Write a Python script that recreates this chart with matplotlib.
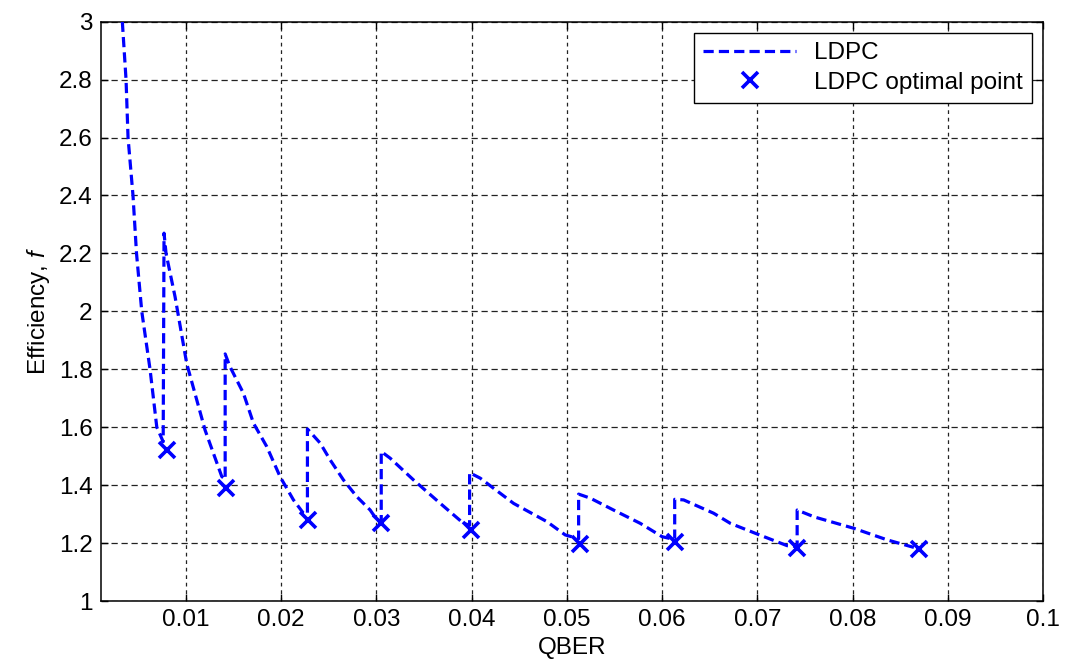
import matplotlib
matplotlib.use("Agg")
import matplotlib.pyplot as plt

plt.rcParams['font.family'] = ['Liberation Sans', 'DejaVu Sans']
plt.rcParams['mathtext.fontset'] = 'custom'
plt.rcParams['mathtext.it'] = 'Liberation Sans:italic'
plt.rcParams['mathtext.rm'] = 'Liberation Sans'

# LDPC efficiency curve (sawtooth)
qber = [0.00331, 0.00370, 0.00391, 0.00443, 0.00480, 0.00535, 0.00622, 0.00693, 0.00760,
        0.00769, 0.00790, 0.00885, 0.01007, 0.01200, 0.01375, 0.01411,
        0.01411, 0.01460, 0.01603, 0.01708, 0.01848, 0.01988, 0.02128, 0.02233, 0.02275,
        0.02275, 0.02409, 0.02514, 0.02653, 0.02794, 0.02934, 0.03004, 0.03050,
        0.03050, 0.03144, 0.03389, 0.03670, 0.03914, 0.03978,
        0.03978, 0.04090, 0.04440, 0.04790, 0.04983, 0.05123,
        0.05123, 0.05246, 0.05490, 0.05771, 0.06000, 0.06132,
        0.06132, 0.06226, 0.06541, 0.06717, 0.07000, 0.07313, 0.07418,
        0.07418, 0.07600, 0.08013, 0.08364, 0.08644]
eff = [3.00, 2.80, 2.60, 2.40, 2.20, 2.00, 1.80, 1.60, 1.55,
       2.27, 2.20, 2.05, 1.82, 1.59, 1.43, 1.42,
       1.853, 1.81, 1.717, 1.614, 1.533, 1.429, 1.349, 1.303, 1.30,
       1.594, 1.545, 1.487, 1.418, 1.360, 1.314, 1.280, 1.275,
       1.516, 1.493, 1.418, 1.337, 1.268, 1.262,
       1.443, 1.424, 1.337, 1.274, 1.228, 1.215,
       1.369, 1.355, 1.314, 1.268, 1.222, 1.212,
       1.351, 1.349, 1.303, 1.268, 1.231, 1.191, 1.188,
       1.314, 1.290, 1.251, 1.211, 1.185]

# Optimal points
opt_qber = [0.00796, 0.01420, 0.02283, 0.03050, 0.03995, 0.05134, 0.06140, 0.07416, 0.08696]
opt_eff = [1.521, 1.391, 1.280, 1.268, 1.246, 1.198, 1.204, 1.184, 1.178]

xticks = [0.01, 0.02, 0.03, 0.04, 0.05, 0.06, 0.07, 0.08, 0.09, 0.1]
xticklabels = ['0.01', '0.02', '0.03', '0.04', '0.05', '0.06', '0.07', '0.08', '0.09', '0.1']
yticks = [1, 1.2, 1.4, 1.6, 1.8, 2, 2.2, 2.4, 2.6, 2.8, 3]
yticklabels = ['1', '1.2', '1.4', '1.6', '1.8', '2', '2.2', '2.4', '2.6', '2.8', '3']

W, H = 1066, 659
fig = plt.figure(figsize=(W / 100, H / 100), dpi=100)
ax = fig.add_axes([101 / W, (H - 601) / H, 942 / W, 579.3 / H])

FS = 17.5
blue = (0, 0, 1)
ax.plot(qber, eff, color=blue, lw=2.3, linestyle=(0, (3.2, 1.6)), label='LDPC', zorder=3)
ax.plot(opt_qber, opt_eff, linestyle='none', marker='x', color=blue, markersize=12,
        markeredgewidth=2.6, label='LDPC optimal point', zorder=4)

ax.set_xlim(0.00107, 0.1)
ax.set_ylim(1, 3)
ax.set_xticks(xticks)
ax.set_xticklabels(xticklabels)
ax.set_yticks(yticks)
ax.set_yticklabels(yticklabels)

ax.tick_params(direction='in', length=5, width=1, top=True, right=True,
               labelsize=FS, colors='black')
ax.tick_params(axis='x', pad=6)
ax.tick_params(axis='y', pad=6)
for s in ax.spines.values():
    s.set_linewidth(1.1)
    s.set_color('black')

ax.xaxis.grid(True, color='#222222', linestyle=(0, (3, 3)), linewidth=0.9)
ax.yaxis.grid(True, color='#222222', linestyle=(0, (5, 3)), linewidth=0.9)
ax.set_axisbelow(True)

ax.set_xlabel('QBER', fontsize=FS, labelpad=4)
ax.set_ylabel('Efficiency, $f$', fontsize=FS, labelpad=5)

leg = ax.legend(loc='upper right', bbox_to_anchor=((1032 - 101) / 942, (601 - 33) / 579.3),
                borderaxespad=0, fontsize=FS, frameon=True, fancybox=False,
                edgecolor='black', framealpha=1, handlelength=3.8, handletextpad=0.75,
                labelspacing=0.3, borderpad=0.38)
leg.get_frame().set_linewidth(1.0)

fig.savefig('out.png', dpi=100)
